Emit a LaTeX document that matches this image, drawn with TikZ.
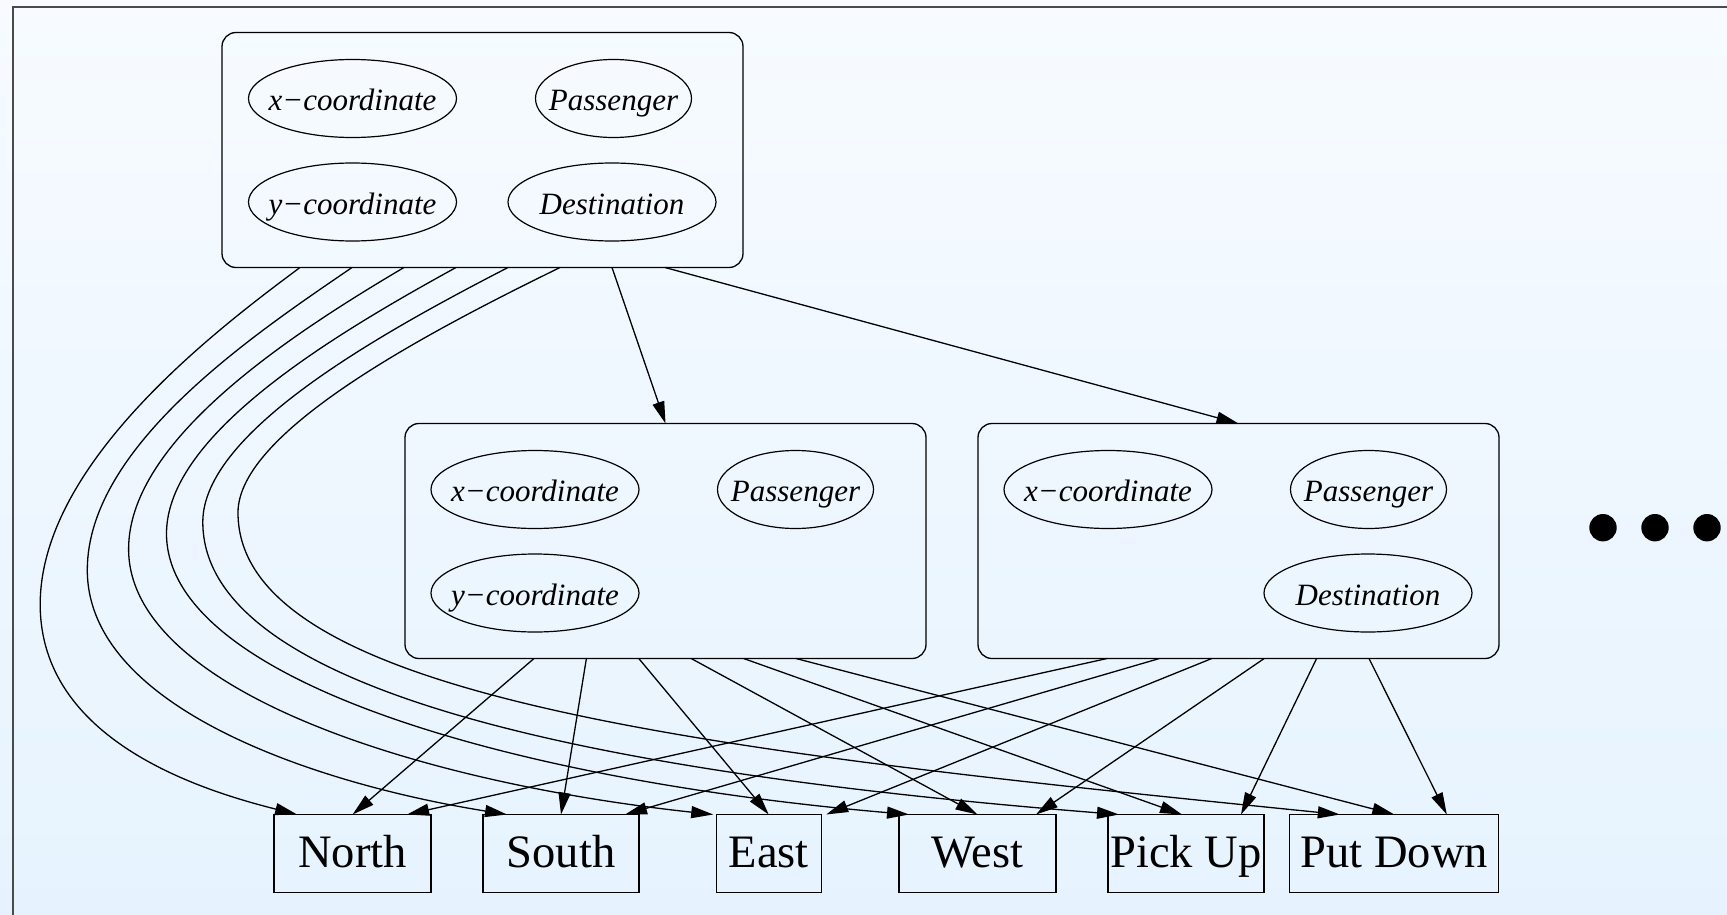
\documentclass[tikz,border=0pt]{standalone}
\usepackage{fontspec}
\setmainfont{Liberation Serif}
\usetikzlibrary{arrows.meta,calc,shapes.geometric}
\definecolor{bgtop}{RGB}{247,251,255}
\definecolor{bgbot}{RGB}{230,243,254}
\definecolor{framegray}{RGB}{74,74,74}
\begin{document}
\begin{tikzpicture}[x=1pt,y=-1pt,
  every node/.style={inner sep=0pt,outer sep=0pt},
  cluster/.style={draw,line width=1.3pt,rounded corners=14pt,
    minimum width=521pt,minimum height=235pt,anchor=north west},
  var/.style={draw,ellipse,line width=1.2pt,minimum height=78pt,
    text height=24pt,text depth=0pt,
    font=\fontsize{31}{36}\selectfont\itshape},
  wide/.style={minimum width=208pt},
  narrow/.style={minimum width=156pt},
  act/.style={draw,line width=1.3pt,minimum height=78pt,
    text height=27.6pt,text depth=0pt,
    font=\fontsize{46.5}{55}\selectfont},
  dot/.style={circle,fill=black,minimum size=27.4pt},
  edge/.style={line width=1.3pt,-{Triangle[length=22pt,width=12pt]}}]

% background and frame
\useasboundingbox (0,0) rectangle (1727,915);
\shade[top color=bgtop,bottom color=bgbot] (0,0) rectangle (1727,915);
\draw[line width=1.7pt,framegray] (13.3,915) -- (13.3,6.7) -- (1727,6.7);

% top cluster
\node[cluster] (T) at (222,32.5) {};
\node[var,wide]   (tx) at ($(T.north west)+(130.5,66)$)  {\makebox[0pt]{x−coordinate}};
\node[var,narrow] (tp) at ($(T.north west)+(391.5,66)$)  {\makebox[0pt]{Passenger}};
\node[var,wide]   (ty) at ($(T.north west)+(130.5,169.5)$) {\makebox[0pt]{y−coordinate}};
\node[var,wide]   (td) at ($(T.north west)+(390,169.5)$) {\makebox[0pt]{Destination}};

% middle clusters
\node[cluster] (M1) at (405,423.5) {};
\node[var,wide]   (ax) at ($(M1.north west)+(130,66)$)  {\makebox[0pt]{x−coordinate}};
\node[var,narrow] (ap) at ($(M1.north west)+(390.5,66)$)  {\makebox[0pt]{Passenger}};
\node[var,wide]   (ay) at ($(M1.north west)+(130,169.5)$) {\makebox[0pt]{y−coordinate}};

\node[cluster] (M2) at (978,423.5) {};
\node[var,wide]   (bx) at ($(M2.north west)+(130,66)$)  {\makebox[0pt]{x−coordinate}};
\node[var,narrow] (bp) at ($(M2.north west)+(390.5,66)$)  {\makebox[0pt]{Passenger}};
\node[var,wide]   (bd) at ($(M2.north west)+(390,169.5)$) {\makebox[0pt]{Destination}};

% actions
\node[act,minimum width=157pt] (N) at (352.6,853.5) {North};
\node[act,minimum width=156pt] (S) at (561,853.5) {South};
\node[act,minimum width=105pt] (E) at (768.7,853.5) {East};
\node[act,minimum width=157pt] (W) at (977.5,853.5) {West};
\node[act,minimum width=156pt] (P) at (1186,853.5) {Pick Up};
\node[act,minimum width=209pt] (D) at (1394.3,853.5) {Put Down};

% ellipsis
\node[dot] (d1) at (1603,527.7) {};
\node[dot] (d2) at (1655,527.7) {};
\node[dot] (d3) at (1707,527.7) {};

% top cluster to the two lower clusters
\draw[edge] ($(T.south west)+(390,0)$) -- (M1.north);
\draw[edge] ($(T.south west)+(443,0)$) -- (M2.north);

% first lower cluster to the actions
\draw[edge] ($(M1.south west)+(129,0)$)   -- (N.north);
\draw[edge] ($(M1.south west)+(181.4,0)$) -- (S.north);
\draw[edge] ($(M1.south west)+(233.8,0)$) -- (E.north);
\draw[edge] ($(M1.south west)+(286.2,0)$) -- (W.north);
\draw[edge] ($(M1.south west)+(338.6,0)$) -- ($(P.north)+(-4,0)$);
\draw[edge] ($(M1.south west)+(391,0)$)   -- (D.north);

% second lower cluster to the actions
\draw[edge] ($(M2.south west)+(129,0)$)   -- ($(N.north east)+(-24,0)$);
\draw[edge] ($(M2.south west)+(181.4,0)$) -- ($(S.north east)+(-14,0)$);
\draw[edge] ($(M2.south west)+(233.8,0)$) -- ($(E.north east)+(5,0)$);
\draw[edge] ($(M2.south west)+(286.2,0)$) -- ($(W.north east)+(-20,0)$);
\draw[edge] ($(M2.south west)+(338.6,0)$) -- ($(P.north east)+(-23,0)$);
\draw[edge] ($(M2.south west)+(391,0)$)   -- ($(D.north east)+(-52,0)$);

% top cluster to the actions, swinging round the left side
\draw[edge] ($(T.south west)+(78,0)$)
  .. controls (220,327) and (40.2,462) .. (40.2,604.4)
  .. controls (40.2,740) and (200,790) .. ($(N.north west)+(23,0)$);
\draw[edge] ($(T.south west)+(130,0)$)
  .. controls (257,332.5) and (87.3,445) .. (87.3,570)
  .. controls (87.3,708) and (316.7,784) .. ($(S.north west)+(24,0)$);
\draw[edge] ($(T.south west)+(182,0)$)
  .. controls (294,332.5) and (128.6,439) .. (128.6,549)
  .. controls (128.6,689) and (413,782) .. ($(E.north west)+(-3,0)$);
\draw[edge] ($(T.south west)+(234,0)$)
  .. controls (336,333.5) and (166.5,433.6) .. (166.5,533.6)
  .. controls (166.5,680) and (509,780) .. ($(W.north west)+(10,0)$);
\draw[edge] ($(T.south west)+(286,0)$)
  .. controls (380,333.5) and (202.8,432) .. (202.8,522)
  .. controls (202.8,695) and (609,774) .. ($(P.north west)+(11,0)$);
\draw[edge] ($(T.south west)+(338,0)$)
  .. controls (425,333.5) and (238,432) .. (238,512.6)
  .. controls (238,700) and (720,752) .. ($(D.north west)+(50,0)$);
\end{tikzpicture}
\end{document}
